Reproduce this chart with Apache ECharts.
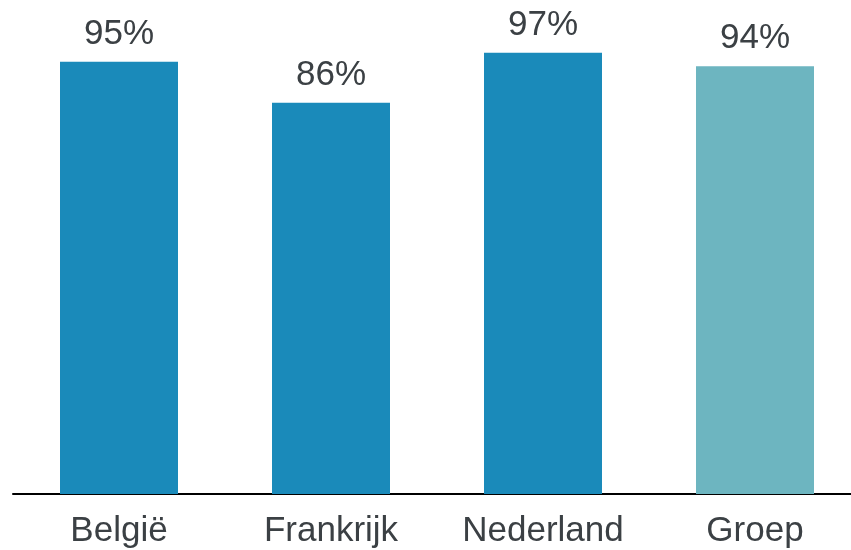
<!DOCTYPE html>
<html>
<head>
<meta charset="utf-8">
<script src="https://cdn.jsdelivr.net/npm/echarts@6/dist/echarts.min.js"></script>
<style>html,body{margin:0;padding:0;background:#fff}#c{width:851px;height:550px}</style>
</head>
<body>
<div id="c"></div>
<script>
var categories = ['België', 'Frankrijk', 'Nederland', 'Groep'];
var values = [95, 86, 97, 94];
var colors = ['#1a8aba', '#1a8aba', '#1a8aba', '#6db5c0'];

var chart = echarts.init(document.getElementById('c'));
chart.setOption({
  animation: false,
  grid: { left: 13, width: 848, top: 39, bottom: 56, containLabel: false, outerBoundsMode: 'none' },
  xAxis: {
    type: 'category',
    data: categories,
    axisLine: { lineStyle: { color: '#000', width: 2 } },
    axisTick: { show: false },
    axisLabel: { interval: 0, color: '#3b4044', fontSize: 35, fontFamily: 'Liberation Sans, Arial, sans-serif', margin: 20 }
  },
  yAxis: { type: 'value', min: 0, max: 100, show: false, splitLine: { show: false } },
  series: [{
    type: 'bar',
    barWidth: 118,
    data: values.map(function (v, i) { return { value: v, itemStyle: { color: colors[i] } }; }),
    label: {
      show: true, position: 'top', distance: 10,
      formatter: '{c}%', color: '#3b4044', fontSize: 35,
      fontFamily: 'Liberation Sans, Arial, sans-serif'
    }
  }]
});
</script>
</body>
</html>
